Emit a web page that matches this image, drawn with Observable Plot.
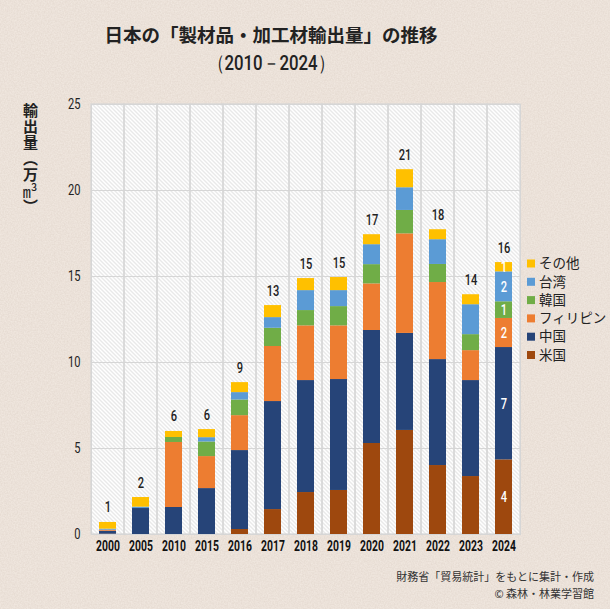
<!DOCTYPE html>
<html><head><meta charset="utf-8">
<script src="https://cdn.jsdelivr.net/npm/d3@7"></script>
<script src="https://cdn.jsdelivr.net/npm/@observablehq/plot@0.6"></script>
<style>
body{margin:0;background:#eee5dc;}
#wrap{position:relative;width:610px;height:609px;overflow:hidden;}
#ylab{position:absolute;left:22px;top:103px;writing-mode:vertical-rl;font-family:"Noto Sans CJK JP",sans-serif;font-size:15px;font-weight:bold;color:#222;line-height:1;letter-spacing:1px;}
#ylab .up{text-combine-upright:all;font-weight:normal;font-size:16px;}
</style></head><body><div id="wrap"><div id="ylab">輸出量（万<span class="up">m³</span>）</div></div>
<script>
const years = ["2000","2005","2010","2015","2016","2017","2018","2019","2020","2021","2022","2023","2024"];
const seriesNames = ["米国","中国","フィリピン","韓国","台湾","その他"];
const seriesColors = ["#9e480e","#264478","#ed7d31","#70ad47","#5b9bd5","#ffc000"];
const us          = [0.02, 0.00, 0.00, 0.00, 0.29, 1.45, 2.44, 2.56, 5.29, 6.05, 4.01, 3.37, 4.34];
const china       = [0.17, 1.51, 1.57, 2.67, 4.59, 6.28, 6.51, 6.45, 6.57, 5.64, 6.16, 5.58, 6.53];
const philippines = [0.06, 0.00, 3.78, 1.86, 2.03, 3.20, 3.18, 3.12, 2.71, 5.79, 4.48, 1.74, 1.69];
const korea       = [0.00, 0.00, 0.29, 0.85, 0.91, 1.06, 0.89, 1.12, 1.12, 1.36, 1.05, 0.93, 0.97];
const taiwan      = [0.06, 0.08, 0.00, 0.25, 0.43, 0.62, 1.16, 0.93, 1.16, 1.32, 1.44, 1.74, 1.74];
const other       = [0.39, 0.56, 0.35, 0.47, 0.58, 0.70, 0.70, 0.76, 0.58, 1.05, 0.58, 0.58, 0.54];
const yTicks = [0, 5, 10, 15, 20, 25];
const labelYear = "2024";
const titleText = "日本の「製材品・加工材輸出量」の推移";
const subtitleText = "（2010－2024）";
const sourceLines = ["財務省「貿易統計」をもとに集計・作成", "© 森林・林業学習館"];

const seriesValues = [us, china, philippines, korea, taiwan, other];
const rows = [];
years.forEach((yr, i) => seriesNames.forEach((s, j) => rows.push({year: yr, series: s, value: seriesValues[j][i]})));
const totals = years.map((yr, i) => ({year: yr, total: d3.sum(seriesValues, v => v[i])}));

const numFont = "'Roboto','Noto Sans',sans-serif";
const jpFont = "'Noto Sans CJK JP',sans-serif";
const gridColor = "#d6d6d6";

const chart = Plot.plot({
  width: 610, height: 609,
  marginLeft: 91, marginRight: 90, marginTop: 104, marginBottom: 75,
  style: {background: "transparent", fontFamily: numFont, color: "#222"},
  x: {domain: years, padding: 0, label: null},
  y: {domain: [0, 25], label: null},
  color: {domain: seriesNames, range: seriesColors},
  marks: [
    Plot.frame({fill: "url(#hatch)", stroke: gridColor}),
    Plot.gridY(yTicks, {stroke: gridColor, strokeOpacity: 1, strokeWidth: 1.2}),
    Plot.barY(years, {x: d => d, y1: 0, y2: 25, fill: "none", stroke: gridColor, strokeWidth: 1.2}),
    Plot.barY(rows, {x: "year", y: "value", fill: "series", order: seriesNames, insetLeft: 8, insetRight: 8}),
    Plot.text(totals, {x: "year", y: "total", text: d => d3.format(".0f")(d.total), lineAnchor: "bottom", dy: -10, fontSize: 15, fontWeight: 500, fill: "#222"}),
    Plot.text(rows.filter(d => d.year === labelYear), Plot.stackY({x: "year", y: "value", z: "series", order: seriesNames, text: d => Math.round(d.value), fill: "white", fontSize: 15, fontWeight: 500})),
    Plot.axisY(yTicks, {tickSize: 0, tickPadding: 11, fontSize: 15, label: null, fill: "#222"}),
    Plot.axisX({tickSize: 0, tickPadding: 7, fontSize: 14, fontWeight: "bold", label: null, fill: "#111"})
  ]
});

document.getElementById("wrap").prepend(chart);
const svg = d3.select(chart);

function condense(sel, f) {
  sel.each(function () {
    const L = this.getComputedTextLength();
    if (L > 0) { this.setAttribute("textLength", L * f); this.setAttribute("lengthAdjust", "spacingAndGlyphs"); }
  });
}
condense(svg.selectAll("text"), 0.74);

const defs = svg.insert("defs", ":first-child");
const pat = defs.append("pattern").attr("id", "hatch").attr("patternUnits", "userSpaceOnUse").attr("width", 4).attr("height", 4);
pat.append("rect").attr("width", 4).attr("height", 4).attr("fill", "#ffffff");
pat.append("path").attr("d", "M-1,-1L5,5M-1,3L1,5M3,-1L5,1").attr("stroke", "#cdcdcd").attr("stroke-width", 0.9);
const filt = defs.append("filter").attr("id", "paper").attr("x", 0).attr("y", 0).attr("width", "100%").attr("height", "100%");
filt.append("feTurbulence").attr("type", "fractalNoise").attr("baseFrequency", 0.7).attr("numOctaves", 2).attr("seed", 3);
filt.append("feColorMatrix").attr("type", "matrix").attr("values", "0 0 0 0 0.55  0 0 0 0 0.45  0 0 0 0 0.38  0 0 0 0.6 -0.12");
svg.insert("rect", "defs + *").attr("width", 610).attr("height", 609).attr("fill", "#f0e7df");
svg.insert("rect", "defs + rect + *").attr("width", 610).attr("height", 609).attr("filter", "url(#paper)").attr("opacity", 0.6);

// titles
svg.append("text").attr("x", 271).attr("y", 42).attr("text-anchor", "middle").attr("font-family", jpFont).attr("font-weight", "bold").attr("font-size", 18.5).attr("fill", "#222").text(titleText);
const sub = svg.append("text").attr("x", 271).attr("y", 70).attr("text-anchor", "middle").attr("font-family", numFont).attr("font-weight", 500).attr("font-size", 21).attr("fill", "#222").text(subtitleText);
condense(sub, 0.8);

// legend
const legendOrder = seriesNames.slice().reverse();
const lg = svg.append("g").attr("transform", "translate(527,263.5)");
legendOrder.forEach((s, i) => {
  const g = lg.append("g").attr("transform", `translate(0,${i * 18.3})`);
  g.append("rect").attr("x", 0).attr("y", -4).attr("width", 8).attr("height", 8).attr("fill", seriesColors[seriesNames.indexOf(s)]);
  g.append("text").attr("x", 12).attr("y", 0).attr("dy", "0.35em").attr("text-anchor", "start").attr("font-family", jpFont).attr("font-size", 13.5).attr("fill", "#222").text(s);
});

// source
sourceLines.forEach((t, i) => {
  svg.append("text").attr("x", 594).attr("y", 581 + i * 16.5).attr("text-anchor", "end").attr("font-family", jpFont).attr("font-size", 11).attr("fill", "#333").text(t);
});
</script>
</body></html>
